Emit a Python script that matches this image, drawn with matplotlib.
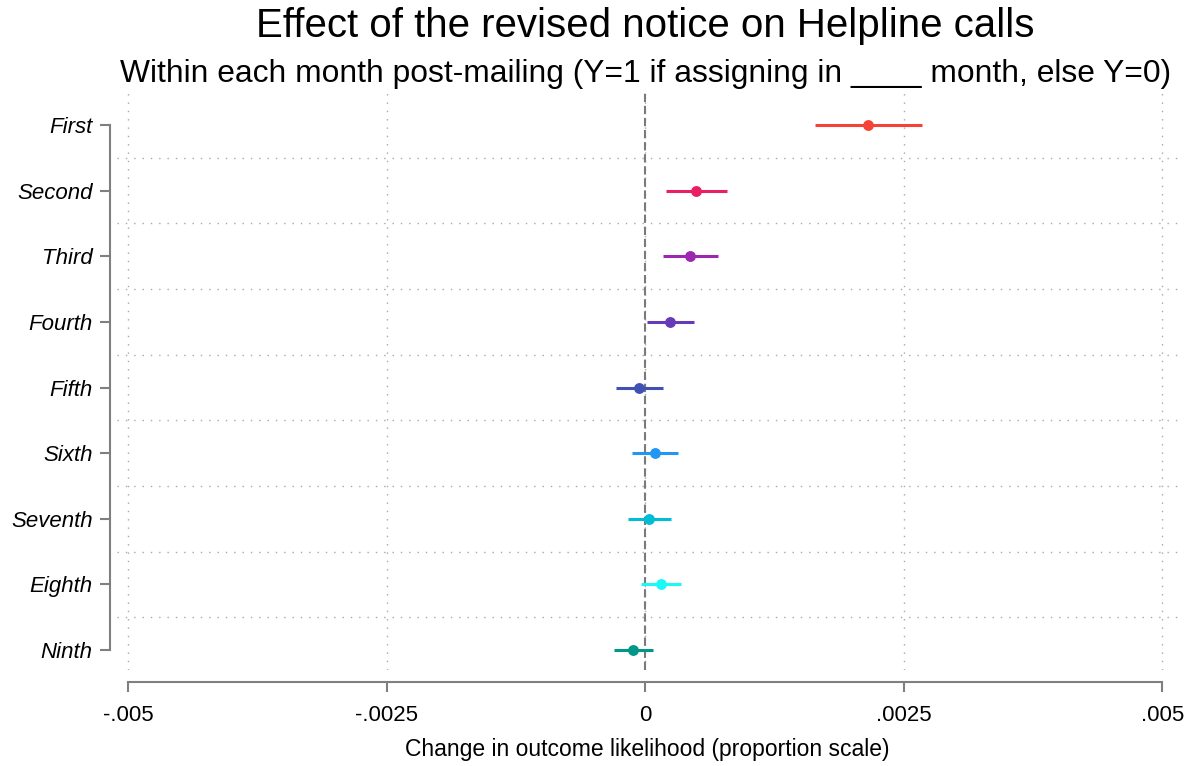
import matplotlib
matplotlib.use("Agg")
import matplotlib.pyplot as plt
import numpy as np

plt.rcParams['font.family'] = ['Liberation Sans', 'DejaVu Sans']

# Month after mailing, point estimates and 95% confidence bounds
months = ["First", "Second", "Third", "Fourth", "Fifth",
          "Sixth", "Seventh", "Eighth", "Ninth"]
estimate = [0.002155, 0.000491, 0.000430, 0.000240, -0.000063,
            0.000092, 0.000034, 0.000150, -0.000118]
ci_low = [0.001639, 0.000198, 0.000166, 0.000015, -0.000288,
          -0.000133, -0.000169, -0.000041, -0.000308]
ci_high = [0.002674, 0.000791, 0.000701, 0.000472, 0.000166,
           0.000317, 0.000244, 0.000343, 0.000075]
colors = ["#F44336", "#E91E63", "#9C27B0", "#673AB7", "#3F51B5",
          "#2196F3", "#00BCD4", "#1AF8F8", "#009688"]

x_ticks = [-0.005, -0.0025, 0, 0.0025, 0.005]
x_tick_labels = ["-.005", "-.0025", "0", ".0025", ".005"]

fig = plt.figure(figsize=(11.92, 7.66), dpi=100)
ax = fig.add_axes([117 / 1192, 1 - 670 / 766, (1178 - 117) / 1192, (670 - 93) / 766])

pos = np.arange(1, len(months) + 1)

# Grid: dotted lines between categories and at the x ticks
grid_kw = dict(color="#a8a8a8", lw=1.0, linestyle=(0, (1, 5)), zorder=0)
for y in pos[:-1] + 0.5:
    ax.axhline(y, **grid_kw)
for xv in x_ticks:
    ax.axvline(xv, **grid_kw)

# Reference line at zero
ax.axvline(0, color="#7a7a7a", lw=1.5, dashes=(4, 1.8), zorder=1)

for p, est, lo, hi, c in zip(pos, estimate, ci_low, ci_high, colors):
    ax.plot([lo, hi], [p, p], color=c, lw=2.2, solid_capstyle="butt", zorder=2)
    ax.plot(est, p, "o", color=c, ms=6.8, mec=c, zorder=3)

ax.set_xlim(-0.00511, 0.00515)
ax.set_ylim(9.305, 0.512)

# Axis lines sit a little away from the plot region and span only the tick range
for side in ("top", "right"):
    ax.spines[side].set_visible(False)
ax.spines["bottom"].set_position(("outward", 8.6))
ax.spines["bottom"].set_bounds(-0.005, 0.005)
ax.spines["left"].set_position(("outward", 5))
ax.spines["left"].set_bounds(1, 9)
for side in ("bottom", "left"):
    ax.spines[side].set_color("#7f7f7f")
    ax.spines[side].set_linewidth(1.5)

ax.set_xticks(x_ticks)
ax.set_xticklabels(x_tick_labels)
ax.set_yticks(pos)
ax.set_yticklabels(months, style="italic")
ax.tick_params(axis="both", length=7.5, width=1.5, color="#7f7f7f", labelsize=16)
ax.tick_params(axis="x", pad=9)
ax.tick_params(axis="y", pad=5)

ax.set_xlabel("Change in outcome likelihood (proportion scale)", fontsize=16.5, labelpad=9)

fig.text(645 / 1192, 1 - 26 / 766, "Effect of the revised notice on Helpline calls",
         ha="center", va="center", fontsize=29)
fig.text(646 / 1192, 1 - 74 / 766,
         "Within each month post-mailing (Y=1 if assigning in ____ month, else Y=0)",
         ha="center", va="center", fontsize=22.9)

fig.savefig("out.png", dpi=100)
